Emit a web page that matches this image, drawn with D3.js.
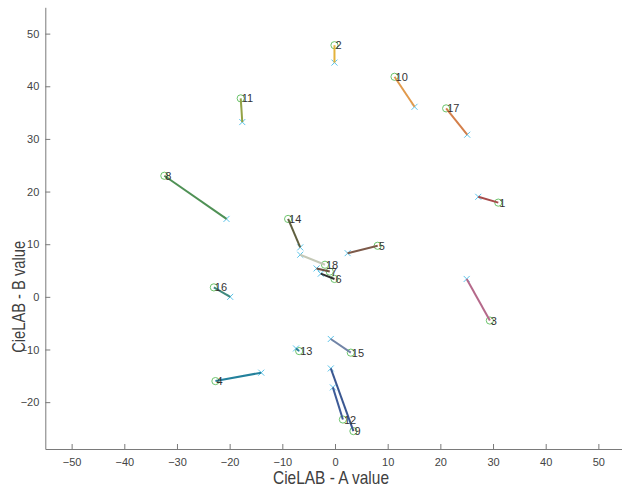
<!DOCTYPE html>
<html>
<head>
<meta charset="utf-8">
<script src="https://cdn.jsdelivr.net/npm/d3@7"></script>
<style>
    body { margin: 0; background: #fff; }
    .axis path, .axis line { stroke: #7a7a7a; }
    .axis text { fill: #444; font-family: "Liberation Sans", Arial, sans-serif; font-size: 11px; }
    .axisTitle { fill: #404040; font-family: "Liberation Sans", Arial, sans-serif; font-size: 19px; }
    .sampleLabel { fill: #333; font-family: "Liberation Sans", Arial, sans-serif; font-size: 11px; }
</style>
</head>
<body>
<div id="chart"></div>
<script>
// sample numbers
const sampleIds = [1, 2, 3, 4, 5, 6, 7, 8, 9, 10, 11, 12, 13, 14, 15, 16, 17, 18];

// reference colour (circle), CieLAB a / b
const refA = [31.0, -0.1, 29.4, -22.7, 8.1, -0.1, -1.0, -32.4, 3.5, 11.3, -17.9, 1.5, -6.8, -8.9, 3.0, -23.0, 21.1, -1.9];
const refB = [17.9, 47.8, -4.5, -16.0, 9.7, 3.4, 4.8, 23.0, -25.5, 41.8, 37.7, -23.3, -10.3, 14.8, -10.6, 1.8, 35.8, 6.1];

// measured colour (cross), CieLAB a / b
const measA = [27.2, -0.1, 25.0, -14.0, 2.4, -2.7, -3.5, -20.6, -0.8, 15.1, -17.6, -0.4, -7.4, -6.6, -0.8, -19.9, 25.1, -6.6];
const measB = [19.0, 44.5, 3.4, -14.4, 8.3, 4.4, 5.4, 14.8, -13.6, 36.1, 33.2, -17.2, -9.8, 9.4, -8.0, 0.0, 30.8, 8.0];

// line colour per sample
const sampleColors = ["#a64a4a", "#e3b23c", "#b5698a", "#23819c", "#7d5a4a", "#2f2f2f", "#6e5040",
    "#4f9155", "#3a5791", "#e19a4c", "#94a346", "#3e5b98", "#2a7f9a", "#5f5f3f", "#7284a6",
    "#3f8a7e", "#d47f4a", "#c5c9b7"];

const width = 622, height = 488;
const margin = { top: 7.3, left: 45.3, bottom: 39, right: -2.7 };

let svg = d3.select("#chart").append("svg")
    .attr("width", width)
    .attr("height", height);

let x = d3.scaleLinear()
    .domain([-55, 55])
    .range([margin.left, width - margin.right]);

let y = d3.scaleLinear()
    .domain([-28.9, 55])
    .range([height - margin.bottom, margin.top]);

// axes (ticks point inward)
let xAxis = svg.append("g")
    .attr("class", "axis")
    .attr("transform", "translate(0," + (height - margin.bottom) + ")")
    .call(d3.axisBottom(x).tickValues(d3.range(-50, 51, 10)).tickSize(-5).tickPadding(9).tickSizeOuter(0));

let yAxis = svg.append("g")
    .attr("class", "axis")
    .attr("transform", "translate(" + margin.left + ",0)")
    .call(d3.axisLeft(y).tickValues(d3.range(-20, 51, 10)).tickSize(-5).tickPadding(6).tickSizeOuter(0));

// axis titles (condensed like the original figure font)
svg.append("text")
    .attr("class", "axisTitle")
    .attr("text-anchor", "middle")
    .attr("x", 331)
    .attr("y", 484)
    .attr("textLength", 116)
    .attr("lengthAdjust", "spacingAndGlyphs")
    .text("CieLAB - A value");

svg.append("text")
    .attr("class", "axisTitle")
    .attr("text-anchor", "middle")
    .attr("transform", "translate(25," + y(0) + ") rotate(-90)")
    .attr("textLength", 112)
    .attr("lengthAdjust", "spacingAndGlyphs")
    .text("CieLAB - B value");

const idx = d3.range(sampleIds.length);

// reference circles
svg.append("g").selectAll("circle")
    .data(idx)
    .enter()
        .append("circle")
        .attr("cx", i => x(refA[i]))
        .attr("cy", i => y(refB[i]))
        .attr("r", 3.6)
        .attr("fill", "none")
        .attr("stroke", "#6cc46c")
        .attr("stroke-width", 1);

// measured crosses
let cross = svg.append("g").selectAll("g")
    .data(idx)
    .enter()
        .append("g")
        .attr("transform", i => "translate(" + x(measA[i]) + "," + y(measB[i]) + ")");

cross.append("path")
    .attr("d", "M-3,-3L3,3M-3,3L3,-3")
    .attr("stroke", "#5bc4ea")
    .attr("stroke-width", 1);

// connecting lines
svg.append("g").selectAll("line")
    .data(idx)
    .enter()
        .append("line")
        .attr("x1", i => x(refA[i]))
        .attr("y1", i => y(refB[i]))
        .attr("x2", i => x(measA[i]))
        .attr("y2", i => y(measB[i]))
        .attr("stroke", i => sampleColors[i])
        .attr("stroke-width", 2);

// sample labels
svg.append("g").selectAll("text")
    .data(idx)
    .enter()
        .append("text")
        .attr("class", "sampleLabel")
        .attr("x", i => x(refA[i]) + 1)
        .attr("y", i => y(refB[i]) + 4)
        .text(i => sampleIds[i]);
</script>
</body>
</html>
